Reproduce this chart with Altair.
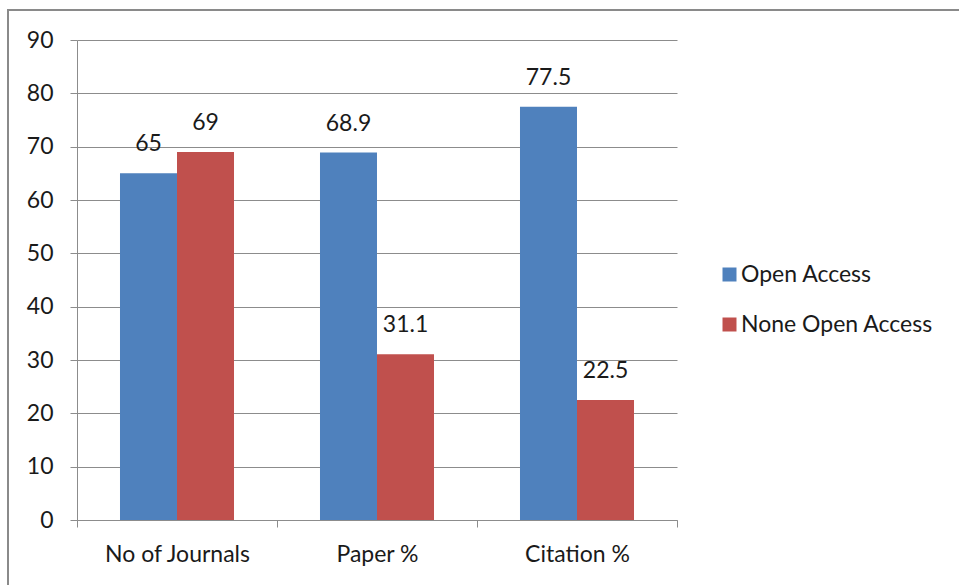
import altair as alt
import pandas as pd

categories = ["No of Journals", "Paper %", "Citation %"]
open_access = [65, 68.9, 77.5]
none_open_access = [69, 31.1, 22.5]
series_names = ["Open Access", "None Open Access"]
series_colors = ["#4F81BD", "#C0504D"]
y_ticks = [0, 10, 20, 30, 40, 50, 60, 70, 80, 90]

rows = []
for cat, a, b in zip(categories, open_access, none_open_access):
    rows.append({"category": cat, "series": series_names[0], "value": a})
    rows.append({"category": cat, "series": series_names[1], "value": b})
df = pd.DataFrame(rows)

FONT = "Lato"
FS = 23
TEXT = "#1a1a1a"
LINE = "#8c8c8c"

x_enc = alt.X(
    "category:N",
    sort=categories,
    title=None,
    scale=alt.Scale(paddingInner=0, paddingOuter=0),
    axis=alt.Axis(
        labelAngle=0,
        tickBand="extent",
        tickSize=7,
        tickColor=LINE,
        domainColor=LINE,
        labelPadding=16,
        labelFont=FONT,
        labelFontSize=FS,
        labelColor=TEXT,
        grid=False,
    ),
)
xoff = alt.XOffset(
    "series:N",
    sort=series_names,
    scale=alt.Scale(paddingInner=0, paddingOuter=0.754),
)
y_enc = alt.Y(
    "value:Q",
    title=None,
    scale=alt.Scale(domain=[0, 90], nice=False),
    axis=alt.Axis(
        values=y_ticks,
        tickSize=7,
        tickColor=LINE,
        domainColor=LINE,
        gridColor=LINE,
        gridWidth=1,
        labelPadding=17,
        labelFont=FONT,
        labelFontSize=FS,
        labelColor=TEXT,
    ),
)

bars = alt.Chart(df).mark_bar(size=57).encode(
    x=x_enc,
    xOffset=xoff,
    y=y_enc,
    color=alt.Color(
        "series:N",
        sort=series_names,
        scale=alt.Scale(domain=series_names, range=series_colors),
        legend=alt.Legend(
            title=None,
            orient="none",
            legendX=641,
            legendY=223,
            symbolType="square",
            symbolSize=196,
            symbolStrokeWidth=0,
            labelFont=FONT,
            labelFontSize=FS,
            labelColor=TEXT,
            labelOffset=0,
            labelLimit=300,
            rowPadding=26,
            padding=0,
        ),
    ),
)

labels = alt.Chart(df).mark_text(
    baseline="bottom", dy=-17, font=FONT, fontSize=FS, color=TEXT
).encode(
    x=alt.X("category:N", sort=categories),
    xOffset=xoff,
    y="value:Q",
    text=alt.Text("value:Q"),
)

frame = alt.Chart(pd.DataFrame({"f": [0]})).mark_rect(
    fill=None, stroke="#8a8a8a", strokeWidth=2
).encode(
    x=alt.value(-69), x2=alt.value(900), y=alt.value(-30), y2=alt.value(600)
)

chart = alt.layer(frame, bars, labels).properties(
    width=600,
    height=480,
    padding={"left": 77, "top": 40, "right": 282, "bottom": 65},
    autosize=alt.AutoSizeParams(type="none"),
    background="white",
).configure_view(stroke=None)

chart.save("out.html", embed_options={"renderer": "svg", "actions": False})
